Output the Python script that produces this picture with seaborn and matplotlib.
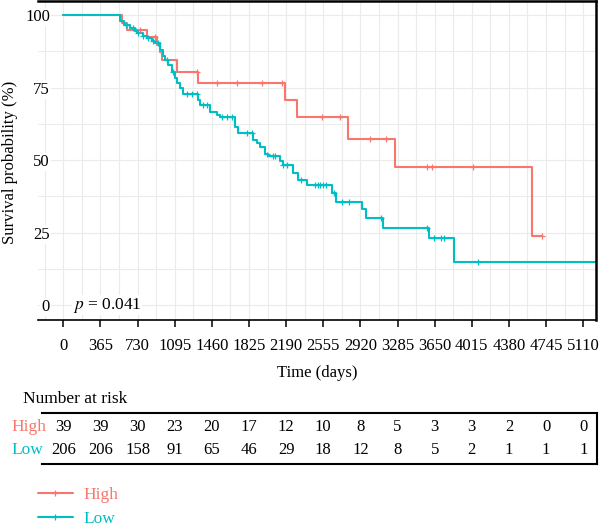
import numpy as np
import pandas as pd
import matplotlib
matplotlib.use("Agg")
import matplotlib.pyplot as plt
import seaborn as sns
from matplotlib.lines import Line2D
from matplotlib.ticker import MultipleLocator

sns.set_theme(style="white")
plt.rcParams["font.family"] = ["Liberation Serif", "DejaVu Serif"]
plt.rcParams["mathtext.fontset"] = "stix"

# ---------------- data ----------------
groups = ["High", "Low"]
palette = {"High": "#F8766D", "Low": "#00BFC4"}

high_time = [0, 575, 629, 826, 924, 950, 973, 1121, 1327, 2182, 2300, 2802, 3264, 4610, 4709]
high_surv = [100, 97.4, 94.9, 92.3, 89.7, 87.2, 84.6, 80.3, 76.5, 70.7, 64.8, 57.2, 47.6, 23.8, 23.8]
high_censor = [757, 904, 1317, 1514, 1710, 1956, 2153, 2546, 2723, 3018, 3175, 3578, 3627, 4030, 4709]

low_time = [0, 557, 600, 656, 700, 725, 780, 823, 870, 901, 951, 980, 1000, 1029, 1068,
            1098, 1120, 1147, 1177, 1324, 1344, 1442, 1511, 1540, 1688, 1717, 1865, 1900,
            1933, 1983, 2012, 2130, 2161, 2259, 2308, 2399, 2638, 2681, 2933, 2972, 3146,
            3598, 3844, 5300]
low_surv = [100, 98, 96.5, 95.4, 94.5, 93.8, 92.8, 92, 91, 90.3, 88, 86, 84.5, 82.8, 80.3,
            78.3, 76.5, 75, 72.8, 70.7, 69, 66.5, 65.5, 64.8, 61.4, 59.3, 57, 55.8,
            54.6, 51.9, 51.3, 49.5, 48.3, 45.5, 43.1, 41.3, 38.7, 35.6, 33, 29.9, 26.5,
            23, 14.8, 14.8]
low_censor = [620, 686, 734, 784, 833, 882, 931, 1019, 1078, 1216, 1260, 1315, 1374, 1413,
              1560, 1610, 1659, 1806, 1855, 2003, 2062, 2080, 2161, 2201, 2340, 2474, 2503,
              2523, 2552, 2582, 2660, 2740, 2808, 3122, 3574, 3643, 3712, 3742, 4076]

risk_times = [0, 365, 730, 1095, 1460, 1825, 2190, 2555, 2920, 3285, 3650, 4015, 4380, 4745, 5110]
risk_high = [39, 39, 30, 23, 20, 17, 12, 10, 8, 5, 3, 3, 2, 0, 0]
risk_low = [206, 206, 158, 91, 65, 46, 29, 18, 12, 8, 5, 2, 1, 1, 1]

p_text = "$p$ = 0.041"

# ---------------- tables ----------------
curve_df = pd.concat([
    pd.DataFrame({"time": high_time, "surv": high_surv, "group": "High"}),
    pd.DataFrame({"time": low_time, "surv": low_surv, "group": "Low"}),
], ignore_index=True)

def surv_at(times, survs, t):
    idx = np.searchsorted(np.array(times), np.array(t), side="right") - 1
    return np.array(survs)[idx]

cens_df = pd.concat([
    pd.DataFrame({"time": high_censor, "surv": surv_at(high_time, high_surv, high_censor), "group": "High"}),
    pd.DataFrame({"time": low_censor, "surv": surv_at(low_time, low_surv, low_censor), "group": "Low"}),
], ignore_index=True)

# ---------------- figure ----------------
W, H = 600, 526
fig = plt.figure(figsize=(W / 100, H / 100), dpi=100)

def box(l, t, r, b):
    return [l / W, 1 - b / H, (r - l) / W, (b - t) / H]

ax = fig.add_axes(box(38, 1, 596, 320))
xmin, xmax = -249, 5236
ymin, ymax = -5.17, 104.83

sns.lineplot(data=curve_df, x="time", y="surv", hue="group", palette=palette,
             drawstyle="steps-post", estimator=None, sort=False, legend=False,
             linewidth=1.5, ax=ax)
sns.scatterplot(data=cens_df, x="time", y="surv", hue="group", palette=palette,
                marker="+", s=18, linewidth=0.9, legend=False, ax=ax, zorder=3)

ax.set_xlim(xmin, xmax)
ax.set_ylim(ymin, ymax)
ax.xaxis.set_major_locator(MultipleLocator(365))
ax.xaxis.set_minor_locator(MultipleLocator(182.5))
ax.set_yticks([0, 25, 50, 75, 100])
ax.yaxis.set_minor_locator(MultipleLocator(12.5))
ax.grid(True, which="both", color="#EBEBEB", linewidth=0.8)
ax.set_axisbelow(True)

for s in ["top", "right"]:
    ax.spines[s].set_visible(True)
    ax.spines[s].set_color("black")
    ax.spines[s].set_linewidth(1.8)
ax.spines["left"].set_visible(False)
ax.spines["bottom"].set_color("black")
ax.spines["bottom"].set_linewidth(1.2)

ax.tick_params(axis="x", which="major", direction="out", length=5, width=1.1,
               color="black", labelsize=12, pad=8, bottom=True, labelcolor="black")
ax.tick_params(axis="x", which="minor", length=0)
ax.tick_params(axis="y", which="both", length=0, labelsize=12, pad=-8.6, labelcolor="black")
for lab in ax.get_yticklabels():
    lab.set_bbox(dict(facecolor="white", edgecolor="none", pad=1.0))

ax.set_xlabel("Time (days)", fontsize=12, labelpad=8, color="black")
ax.set_ylabel("")
fig.text(10 / W, 1 - 162 / H, "Survival probability (%)", rotation=90,
         ha="center", va="center", fontsize=12, color="black")

ax.text(95, 0, p_text, fontsize=12.5, ha="left", va="center", color="black",
        bbox=dict(facecolor="white", edgecolor="none", pad=0.5))

# ---------------- risk table ----------------
tab = fig.add_axes(box(42, 413, 597, 464))
scale = 558 / (xmax - xmin)
t_xmin = xmin + (42 - 38) / scale
t_xmax = t_xmin + (597 - 42) / scale
tab.set_xlim(t_xmin, t_xmax)
tab.set_ylim(0, 1)
tab.set_xticks([])
tab.set_yticks([])
tab.grid(False)
tab.set_facecolor("none")
for s in ["top", "bottom", "right"]:
    tab.spines[s].set_visible(True)
    tab.spines[s].set_color("black")
    tab.spines[s].set_linewidth(1.5)
tab.spines["left"].set_visible(False)

y_high = (464 - 427) / (464 - 413)
y_low = (464 - 450) / (464 - 413)
for t, n in zip(risk_times, risk_high):
    tab.text(t, y_high, str(n), ha="center", va="center", fontsize=12, color="black")
for t, n in zip(risk_times, risk_low):
    tab.text(t, y_low, str(n), ha="center", va="center", fontsize=12, color="black")

fig.text(11 / W, 1 - 427 / H, "High", ha="left", va="center", fontsize=12.5, color=palette["High"])
fig.text(11 / W, 1 - 450 / H, "Low", ha="left", va="center", fontsize=12.5, color=palette["Low"])
fig.text(23 / W, 1 - 399 / H, "Number at risk", ha="left", va="center", fontsize=12.5, color="black")

# ---------------- legend ----------------
handles = [Line2D([0], [0], color=palette[g], linewidth=1.5, marker="+", markersize=4,
                  markeredgewidth=0.9) for g in groups]
fig.legend(handles, groups, loc="upper left", bbox_to_anchor=(38 / W, 1 - 487 / H),
           frameon=False, fontsize=12.5, handlelength=2.0, handletextpad=0.6,
           labelspacing=0.45, labelcolor="linecolor", borderaxespad=0, borderpad=0)

fig.savefig("out.png", dpi=100)
